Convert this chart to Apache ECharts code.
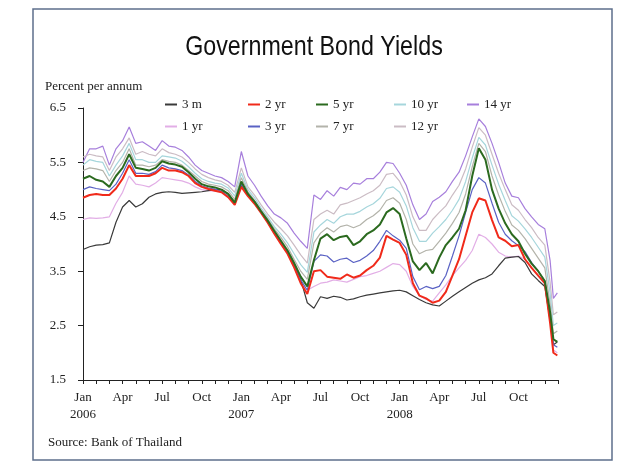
<!DOCTYPE html>
<html>
<head>
<meta charset="utf-8">
<script src="https://cdn.jsdelivr.net/npm/echarts@6.0.0/dist/echarts.min.js"></script>
<style>
  html, body { margin: 0; padding: 0; background: #fff; }
  #chart { width: 622px; height: 465px; }
</style>
</head>
<body>
<div id="chart"></div>
<script>
// months since Jan 2006 (half-month steps, finer at the December 2008 plunge)
var months = [0, 0.5, 1, 1.5, 2, 2.5, 3, 3.5, 4, 4.5, 5, 5.5, 6, 6.5, 7, 7.5, 8, 8.5, 9, 9.5, 10, 10.5, 11, 11.5,
  12, 12.5, 13, 13.5, 14, 14.5, 15, 15.5, 16, 16.5, 17, 17.5, 18, 18.5, 19, 19.5, 20, 20.5, 21, 21.5, 22, 22.5, 23, 23.5,
  24, 24.5, 25, 25.5, 26, 26.5, 27, 27.5, 28, 28.5, 29, 29.5, 30, 30.5, 31, 31.5, 32, 32.5, 33, 33.5, 34, 34.5, 35,
  35.4, 35.65, 35.95];

var quarterLabels = ['Jan', 'Apr', 'Jul', 'Oct'];
var yearLabels = ['2006', '2007', '2008'];

var y14 = [5.50, 5.75, 5.75, 5.80, 5.45, 5.75, 5.90, 6.15, 5.85, 5.88, 5.80, 5.72, 5.90, 5.80, 5.78, 5.72, 5.60, 5.45, 5.35, 5.30, 5.25, 5.22, 5.15, 5.05,
  5.70, 5.25, 5.08, 4.88, 4.70, 4.55, 4.48, 4.38, 4.20, 4.05,
  3.92, 4.90, 4.82, 4.98, 4.88, 5.04, 5.00, 5.12, 5.10, 5.20, 5.20, 5.32, 5.50, 5.48, 5.30, 5.08, 4.72, 4.45, 4.55, 4.78,
  4.86, 4.96, 5.15, 5.32, 5.62, 5.97, 6.30, 6.16, 5.85, 5.50, 5.12, 4.88, 4.85, 4.65, 4.50, 4.36, 4.28, 3.70, 3.00, 3.10];
var y12 = [5.60, 5.65, 5.62, 5.60, 5.35, 5.60, 5.75, 5.95, 5.65, 5.70, 5.65, 5.62, 5.75, 5.68, 5.65, 5.60, 5.50, 5.38, 5.28, 5.22, 5.18, 5.15, 5.08, 4.95,
  5.40, 5.05, 4.90, 4.72, 4.55, 4.40, 4.28, 4.15, 3.98, 3.80,
  3.65, 4.45, 4.55, 4.62, 4.55, 4.72, 4.75, 4.80, 4.85, 4.92, 4.98, 5.08, 5.28, 5.30, 5.15, 4.90, 4.50, 4.25, 4.25, 4.45,
  4.58, 4.70, 4.90, 5.08, 5.38, 5.78, 6.14, 6.00, 5.65, 5.30, 5.00, 4.72, 4.62, 4.45, 4.30, 4.12, 3.98, 3.30, 2.70, 2.75];
var y10 = [5.45, 5.55, 5.52, 5.50, 5.25, 5.45, 5.62, 5.85, 5.55, 5.55, 5.50, 5.50, 5.62, 5.60, 5.58, 5.52, 5.42, 5.30, 5.20, 5.15, 5.12, 5.10, 5.03, 4.88,
  5.30, 5.00, 4.85, 4.66, 4.50, 4.32, 4.18, 4.02, 3.82, 3.62,
  3.48, 4.22, 4.35, 4.45, 4.38, 4.50, 4.55, 4.55, 4.60, 4.68, 4.74, 4.84, 5.02, 5.05, 4.95, 4.70, 4.30, 4.05, 4.05, 4.20,
  4.32, 4.45, 4.62, 4.82, 5.15, 5.58, 5.96, 5.82, 5.45, 5.10, 4.80, 4.52, 4.42, 4.28, 4.12, 3.94, 3.76, 3.10, 2.50, 2.55];
var y7 = [5.35, 5.40, 5.38, 5.35, 5.15, 5.35, 5.50, 5.75, 5.45, 5.45, 5.42, 5.45, 5.55, 5.52, 5.50, 5.45, 5.35, 5.25, 5.15, 5.10, 5.08, 5.05, 4.98, 4.82,
  5.22, 4.96, 4.80, 4.62, 4.46, 4.28, 4.12, 3.95, 3.72, 3.50,
  3.35, 4.02, 4.20, 4.30, 4.22, 4.32, 4.35, 4.30, 4.35, 4.45, 4.52, 4.62, 4.80, 4.85, 4.75, 4.45, 4.00, 3.82, 3.88, 3.90,
  4.05, 4.20, 4.38, 4.58, 4.92, 5.42, 5.85, 5.70, 5.25, 4.90, 4.60, 4.35, 4.25, 4.10, 3.92, 3.74, 3.56, 2.90, 2.35, 2.40];
var y5 = [5.20, 5.25, 5.18, 5.15, 5.05, 5.25, 5.40, 5.65, 5.40, 5.38, 5.35, 5.40, 5.52, 5.48, 5.46, 5.42, 5.32, 5.20, 5.10, 5.06, 5.04, 5.00, 4.92, 4.76,
  5.15, 4.92, 4.78, 4.60, 4.43, 4.24, 4.06, 3.88, 3.65, 3.40,
  3.22, 3.70, 4.10, 4.18, 4.07, 4.13, 4.15, 3.98, 4.05, 4.18, 4.25, 4.36, 4.58, 4.66, 4.55, 4.10, 3.68, 3.52, 3.65, 3.46,
  3.75, 3.98, 4.12, 4.28, 4.62, 5.25, 5.76, 5.55, 5.00, 4.65, 4.38, 4.18, 4.05, 3.82, 3.64, 3.50, 3.32, 2.75, 2.25, 2.20];
var y3 = [5.00, 5.05, 5.02, 5.00, 4.98, 5.10, 5.30, 5.55, 5.30, 5.30, 5.28, 5.33, 5.45, 5.40, 5.38, 5.35, 5.27, 5.15, 5.07, 5.03, 5.01, 4.97, 4.88, 4.73,
  5.10, 4.90, 4.76, 4.58, 4.41, 4.21, 4.02, 3.84, 3.60, 3.34,
  3.15, 3.68, 3.80, 3.78, 3.67, 3.72, 3.74, 3.66, 3.70, 3.78, 3.88, 4.05, 4.25, 4.15, 4.07, 3.92, 3.40, 3.16, 3.22, 3.18,
  3.22, 3.42, 3.78, 4.15, 4.58, 5.00, 5.22, 5.12, 4.75, 4.40, 4.18, 4.06, 3.97, 3.86, 3.66, 3.50, 3.32, 2.65, 2.15, 2.10];
var y2 = [4.85, 4.90, 4.92, 4.90, 4.90, 5.02, 5.20, 5.45, 5.25, 5.25, 5.25, 5.30, 5.40, 5.35, 5.35, 5.32, 5.25, 5.12, 5.05, 5.01, 4.98, 4.95, 4.86, 4.72,
  5.05, 4.88, 4.74, 4.57, 4.39, 4.19, 4.00, 3.82, 3.57, 3.28,
  3.08, 3.50, 3.52, 3.40, 3.38, 3.36, 3.44, 3.38, 3.42, 3.52, 3.60, 3.75, 4.15, 4.08, 4.02, 3.80, 3.28, 3.05, 3.00, 2.92,
  2.96, 3.12, 3.42, 3.72, 4.15, 4.58, 4.84, 4.80, 4.44, 4.12, 4.06, 3.96, 3.98, 3.72, 3.56, 3.42, 3.28, 2.55, 2.00, 1.95];
var y1 = [4.45, 4.48, 4.47, 4.48, 4.50, 4.75, 4.95, 5.25, 5.10, 5.08, 5.05, 5.12, 5.22, 5.20, 5.18, 5.16, 5.12, 5.05, 5.00, 4.98, 4.97, 4.96, 4.88, 4.74,
  5.05, 4.88, 4.74, 4.57, 4.39, 4.19, 4.00, 3.82, 3.57, 3.30,
  3.15, 3.22, 3.28, 3.30, 3.34, 3.32, 3.30, 3.35, 3.40, 3.42, 3.46, 3.50, 3.57, 3.64, 3.62, 3.50, 3.22, 3.05, 2.98, 2.95,
  3.10, 3.25, 3.42, 3.56, 3.70, 3.88, 4.18, 4.12, 4.00, 3.85, 3.78, 3.76, 3.78, 3.72, 3.56, 3.42, 3.26, 2.60, 2.05, 2.00];
var y3m = [3.90, 3.95, 3.98, 3.99, 4.02, 4.40, 4.68, 4.80, 4.68, 4.74, 4.86, 4.92, 4.95, 4.96, 4.95, 4.93, 4.94, 4.95, 4.96, 4.98, 5.00, 5.00, 4.92, 4.76,
  5.08, 4.90, 4.76, 4.58, 4.40, 4.20, 4.02, 3.84, 3.60, 3.35,
  2.92, 2.82, 3.03, 3.00, 3.04, 3.02, 2.97, 2.99, 3.03, 3.06, 3.08, 3.10, 3.12, 3.14, 3.15, 3.12, 3.05, 2.98, 2.92, 2.88,
  2.86, 2.95, 3.04, 3.12, 3.20, 3.28, 3.34, 3.38, 3.45, 3.60, 3.74, 3.76, 3.77, 3.66, 3.45, 3.33, 3.22, 2.60, 2.15, 2.20];

var chart = echarts.init(document.getElementById('chart'));

function pairs(vals) {
  return months.map(function (m, i) { return [m, vals[i]]; });
}

function line(name, vals, color, width) {
  return {
    name: name,
    type: 'line',
    symbol: 'none',
    data: pairs(vals),
    color: color,
    lineStyle: { color: color, width: width },
    animation: false
  };
}

var serif = '"Liberation Serif", "DejaVu Serif", serif';
var textStyle = { fontFamily: serif, fontSize: 13, color: '#222' };

function legendAt(name, left, top) {
  return {
    data: [name],
    left: left,
    top: top,
    padding: 0,
    icon: 'rect',
    itemWidth: 12,
    itemHeight: 2,
    itemGap: 0,
    textStyle: textStyle,
    selectedMode: false
  };
}

var option = {
  backgroundColor: '#fff',
  legend: [
    legendAt('3 m', 165, 98),
    legendAt('2 yr', 248, 98),
    legendAt('5 yr', 316, 98),
    legendAt('10 yr', 394, 98),
    legendAt('14 yr', 467, 98),
    legendAt('1 yr', 165, 120),
    legendAt('3 yr', 248, 120),
    legendAt('7 yr', 316, 120),
    legendAt('12 yr', 394, 120)
  ],
  grid: { left: 83, top: 108, width: 475, height: 272 },
  xAxis: {
    type: 'value',
    min: 0,
    max: 36,
    interval: 1,
    splitLine: { show: false },
    axisLine: { lineStyle: { color: '#222', width: 1 } },
    axisTick: { length: 4, lineStyle: { color: '#222' } },
    axisLabel: {
      margin: 9,
      fontFamily: serif,
      fontSize: 13,
      color: '#222',
      lineHeight: 17,
      formatter: function (v) {
        if (v % 3 !== 0 || v > 33) return '';
        var q = quarterLabels[(v / 3) % 4];
        if (v % 12 === 0) return q + '\n' + yearLabels[v / 12];
        return q;
      }
    }
  },
  yAxis: {
    type: 'value',
    min: 1.5,
    max: 6.5,
    interval: 1,
    splitLine: { show: false },
    axisLine: { show: true, lineStyle: { color: '#222', width: 1 } },
    axisTick: { show: true, length: 5, lineStyle: { color: '#222' } },
    axisLabel: {
      margin: 17,
      fontFamily: serif,
      fontSize: 13,
      color: '#222',
      formatter: function (v) { return v.toFixed(1); }
    }
  },
  graphic: [
    {
      type: 'rect',
      shape: { x: 33, y: 9, width: 579, height: 451 },
      style: { fill: 'none', stroke: '#5d6f8c', lineWidth: 1.5 },
      silent: true
    },
    {
      // condensed title: a sans face squeezed horizontally
      type: 'text',
      x: 314,
      y: 47,
      scaleX: 0.83,
      style: {
        text: 'Government Bond Yields',
        font: '28px "Liberation Sans", "DejaVu Sans", sans-serif',
        fill: '#111',
        align: 'center',
        verticalAlign: 'middle'
      }
    },
    {
      type: 'text',
      left: 45,
      top: 80,
      style: { text: 'Percent per annum', font: '13px ' + serif, fill: '#222' }
    },
    {
      type: 'text',
      left: 48,
      top: 436,
      style: { text: 'Source: Bank of Thailand', font: '13px ' + serif, fill: '#222' }
    }
  ],
  series: [
    line('14 yr', y14, '#a77fdc', 1.2),
    line('12 yr', y12, '#cbbcc4', 1.2),
    line('10 yr', y10, '#a6d6dc', 1.2),
    line('7 yr', y7, '#b3b3aa', 1.2),
    line('1 yr', y1, '#e2aee6', 1.2),
    line('3 m', y3m, '#3a3a3a', 1.2),
    line('3 yr', y3, '#5a62c4', 1.2),
    line('2 yr', y2, '#f02a1a', 2),
    line('5 yr', y5, '#2b6a1f', 2)
  ]
};

chart.setOption(option);
</script>
</body>
</html>
